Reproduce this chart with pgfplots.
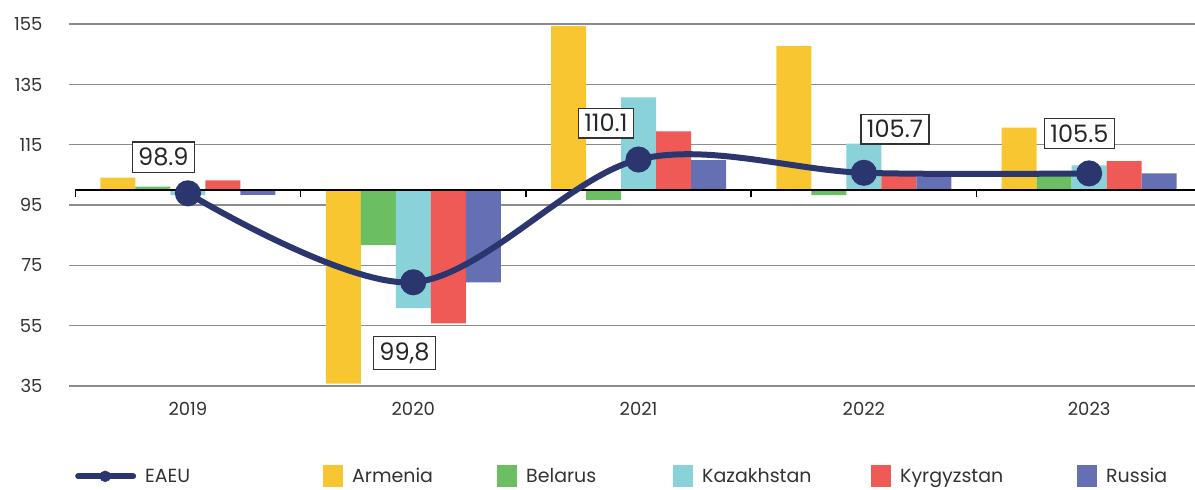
\documentclass[border=0pt]{standalone}
\usepackage{pgfplots}
\pgfplotsset{compat=1.18}
\usepackage{pgfplotstable}
\usepackage{fontspec}
\setmainfont{Poppins}

\definecolor{cArm}{HTML}{F7C631}
\definecolor{cBel}{HTML}{6BBF62}
\definecolor{cKaz}{HTML}{89D2D9}
\definecolor{cKyr}{HTML}{F05A56}
\definecolor{cRus}{HTML}{6570B4}
\definecolor{navy}{HTML}{2B366E}
\definecolor{gridgray}{HTML}{8C8C8C}
\definecolor{txt}{HTML}{333333}

% growth index, previous year = 100
\pgfplotstableread{
x Armenia Belarus Kazakhstan Kyrgyzstan Russia EAEU
0 104.1 101.1  98.3 103.2  98.4  98.9
1  35.8  81.7  60.8  55.8  69.4  69.4
2 154.3  96.7 130.7 119.4 109.9 110.1
3 147.8  98.3 115.4 105.2 104.5 105.7
4 120.7 104.6 108.2 109.6 105.5 105.5
}\datatable

\begin{document}
\begin{tikzpicture}
\useasboundingbox (-69pt,-104pt) rectangle (1126pt,386pt);
\begin{axis}[
  at={(0pt,0pt)}, anchor=south west,
  scale only axis, width=1126pt, height=386pt,
  xmin=-0.528, xmax=4.47, ymin=35, ymax=163,
  y coord trafo/.code={\pgfmathparse{#1-100}},
  y coord inv trafo/.code={\pgfmathparse{#1+100}},
  axis line style={draw=none},
  ytick={35,55,75,95,115,135,155},
  yticklabels={35,55,75,95,115,135,155},
  xtick={0,...,4}, xticklabels={2019,2020,2021,2022,2023},
  ymajorgrids, grid style={gridgray, line width=1.4pt},
  major tick length=0pt,
  tick label style={font=\fontsize{18}{20}\selectfont, text=txt},
  yticklabel style={xshift=-23pt},
  xticklabel style={yshift=-13pt},
  legend columns=6,
  legend style={draw=none, fill=none, at={(0.0053,-0.234)}, anchor=west,
    font=\fontsize{19}{21}\selectfont, text=txt, inner sep=0pt,
    /tikz/every odd column/.append style={column sep=7pt}},
  legend image code/.code={\fill[#1] (0pt,-11pt) rectangle (20pt,11pt);},
]
\addlegendimage{legend image code/.code={
  \draw[navy, line width=6pt, line cap=round] (0pt,0pt) -- (55pt,0pt);
  \fill[navy] (27pt,0pt) circle (5.5pt);}}
\addlegendentry{\makebox[176pt][l]{EAEU}}

\addplot[ybar, bar width=35pt, bar shift=-70pt, fill=cArm, draw=none]
  table[x=x, y=Armenia] {\datatable};
\addlegendentry{\makebox[143pt][l]{Armenia}}
\addplot[ybar, bar width=35pt, bar shift=-35pt, fill=cBel, draw=none]
  table[x=x, y=Belarus] {\datatable};
\addlegendentry{\makebox[145pt][l]{Belarus}}
\addplot[ybar, bar width=35pt, bar shift=0pt, fill=cKaz, draw=none]
  table[x=x, y=Kazakhstan] {\datatable};
\addlegendentry{\makebox[167pt][l]{Kazakhstan}}
\addplot[ybar, bar width=35pt, bar shift=35pt, fill=cKyr, draw=none]
  table[x=x, y=Kyrgyzstan] {\datatable};
\addlegendentry{\makebox[175pt][l]{Kyrgyzstan}}
\addplot[ybar, bar width=35pt, bar shift=70pt, fill=cRus, draw=none]
  table[x=x, y=Russia] {\datatable};
\addlegendentry{Russia}

% baseline at 100 and category separators
\draw[black, line width=2pt] (axis cs:-0.5,100) -- (axis cs:4.47,100);
\pgfplotsinvokeforeach{-0.5,0.5,1.5,2.5,3.5}{
  \draw[black, line width=1.5pt] (axis cs:#1,100) -- ++(0pt,-7pt);
}

\addplot[forget plot, smooth, tension=0.55, navy, line width=6pt,
  mark=*, mark size=10pt, mark options={fill=navy, draw=none}]
  table[x=x, y=EAEU] {\datatable};

\tikzset{vlab/.style={draw=black!80, line width=1.2pt, fill=white,
  font=\fontsize{24}{26}\selectfont, text=black!85, inner xsep=6pt, inner ysep=6pt}}
\node[vlab] at (axis cs:-0.109,110.9) {98.9};
\node[vlab] at (axis cs:0.961,45.9) {99,8};
\node[vlab] at (axis cs:1.855,122.2) {110.1};
\node[vlab] at (axis cs:3.138,120.2) {105.7};
\node[vlab] at (axis cs:3.957,118.7) {105.5};
\end{axis}
\end{tikzpicture}
\end{document}
